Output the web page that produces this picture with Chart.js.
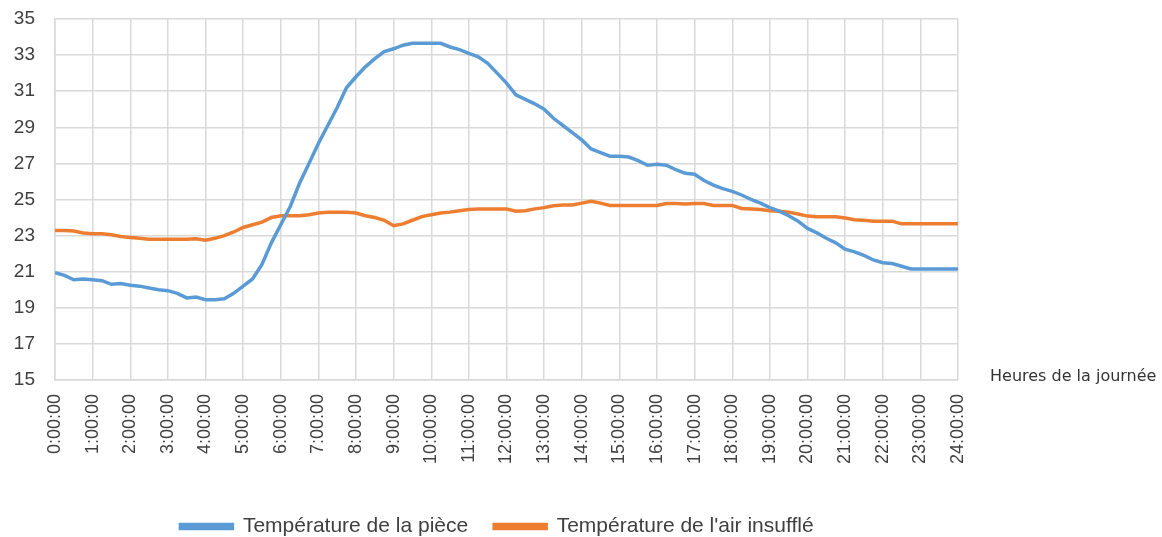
<!DOCTYPE html>
<html>
<head>
<meta charset="utf-8">
<script src="https://cdn.jsdelivr.net/npm/chart.js@4.4.1/dist/chart.umd.min.js"></script>
<style>
  html, body { margin: 0; padding: 0; background: #fff; }
  #wrap { width: 1162px; height: 537px; position: relative; }
</style>
</head>
<body>
<div id="wrap"><canvas id="tempChart"></canvas></div>
<script>
// Time of the reading (every 15 min)
const times = [
    "0:00","0:15","0:30","0:45","1:00","1:15","1:30","1:45",
    "2:00","2:15","2:30","2:45","3:00","3:15","3:30","3:45",
    "4:00","4:15","4:30","4:45","5:00","5:15","5:30","5:45",
    "6:00","6:15","6:30","6:45","7:00","7:15","7:30","7:45",
    "8:00","8:15","8:30","8:45","9:00","9:15","9:30","9:45",
    "10:00","10:15","10:30","10:45","11:00","11:15","11:30","11:45",
    "12:00","12:15","12:30","12:45","13:00","13:15","13:30","13:45",
    "14:00","14:15","14:30","14:45","15:00","15:15","15:30","15:45",
    "16:00","16:15","16:30","16:45","17:00","17:15","17:30","17:45",
    "18:00","18:15","18:30","18:45","19:00","19:15","19:30","19:45",
    "20:00","20:15","20:30","20:45","21:00","21:15","21:30","21:45",
    "22:00","22:15","22:30","22:45","23:00","23:15","23:30","23:45",
    "24:00"
];

// Température de la pièce
const roomTemp = [
    20.95, 20.8, 20.55, 20.6, 20.55, 20.5, 20.3, 20.35,
    20.25, 20.2, 20.1, 20.0, 19.95, 19.8, 19.55, 19.6,
    19.45, 19.45, 19.5, 19.8, 20.2, 20.6, 21.4, 22.6,
    23.6, 24.6, 25.9, 27.0, 28.1, 29.1, 30.1, 31.2,
    31.8, 32.35, 32.8, 33.2, 33.35, 33.55, 33.65, 33.65,
    33.65, 33.65, 33.45, 33.3, 33.1, 32.9, 32.55, 32.0,
    31.45, 30.8, 30.55, 30.3, 30.0, 29.5, 29.1, 28.7,
    28.3, 27.8, 27.6, 27.4, 27.4, 27.35, 27.15, 26.9,
    26.95, 26.9, 26.65, 26.45, 26.4, 26.05, 25.8, 25.6,
    25.45, 25.25, 25.0, 24.8, 24.55, 24.35, 24.1, 23.8,
    23.4, 23.15, 22.85, 22.6, 22.25, 22.1, 21.9, 21.65,
    21.5, 21.45, 21.3, 21.15, 21.15, 21.15, 21.15, 21.15,
    21.15
];

// Température de l'air insufflé
const supplyTemp = [
    23.28, 23.28, 23.25, 23.15, 23.1, 23.1, 23.05, 22.95,
    22.9, 22.85, 22.8, 22.8, 22.8, 22.8, 22.8, 22.82,
    22.75, 22.85, 23.0, 23.2, 23.45, 23.6, 23.75, 24.0,
    24.1, 24.1, 24.1, 24.15, 24.25, 24.3, 24.3, 24.3,
    24.25, 24.1, 24.0, 23.85, 23.55, 23.65, 23.85, 24.05,
    24.15, 24.25, 24.3, 24.38, 24.45, 24.48, 24.48, 24.48,
    24.48, 24.35, 24.38, 24.48, 24.55, 24.65, 24.7, 24.7,
    24.8, 24.9, 24.8, 24.67, 24.67, 24.67, 24.67, 24.67,
    24.67, 24.78, 24.78, 24.75, 24.78, 24.78, 24.67, 24.67,
    24.67, 24.5, 24.48, 24.45, 24.38, 24.35, 24.3, 24.2,
    24.08, 24.05, 24.05, 24.05, 23.98, 23.88, 23.85, 23.8,
    23.8, 23.8, 23.65, 23.65, 23.65, 23.65, 23.65, 23.65,
    23.65
];

const seriesNames = ["Température de la pièce", "Température de l'air insufflé"];
const xTitle = "Heures de la journée";

function toHours(t) {
    const parts = t.split(":");
    return Number(parts[0]) + Number(parts[1]) / 60;
}

function points(values) {
    return times.map((t, i) => ({ x: toHours(t), y: values[i] }));
}

const gridColor = "#d9d9d9";
const textColor = "#404040";
const font = "'Liberation Sans', Arial, sans-serif";

// axis title on the right of the x axis + legend nudge
const extras = {
    id: "extras",
    afterLayout(chart) {
        chart.legend.left += 14;
        chart.legend.right += 14;
    },
    afterDraw(chart) {
        const ctx = chart.ctx;
        const area = chart.chartArea;
        ctx.save();
        ctx.fillStyle = "#333";
        ctx.font = "16px 'DejaVu Sans', sans-serif";
        ctx.textBaseline = "middle";
        ctx.fillText(xTitle, area.right + 32, area.bottom - 3);
        ctx.restore();
    }
};

const ctx = document.getElementById("tempChart").getContext("2d");
const chart = new Chart(ctx, {
    type: "line",
    data: {
        datasets: [{
            label: seriesNames[0],
            data: points(roomTemp),
            borderColor: "#5B9BD5",
            backgroundColor: "#5B9BD5",
            borderWidth: 3.5,
            pointRadius: 0,
            tension: 0
        }, {
            label: seriesNames[1],
            data: points(supplyTemp),
            borderColor: "#ED7D31",
            backgroundColor: "#ED7D31",
            borderWidth: 3.5,
            pointRadius: 0,
            tension: 0
        }]
    },
    options: {
        responsive: true,
        maintainAspectRatio: false,
        animation: false,
        layout: { padding: { left: 8, right: 204, top: 19, bottom: -10 } },
        plugins: {
            legend: {
                position: "bottom",
                labels: {
                    boxWidth: 52,
                    boxHeight: 4,
                    padding: 26,
                    color: textColor,
                    font: { family: font, size: 21 }
                }
            },
            tooltip: { enabled: false }
        },
        scales: {
            x: {
                type: "linear",
                min: 0,
                max: 24,
                afterFit: scale => { scale.height = 110; },
                ticks: {
                    stepSize: 1,
                    minRotation: 90,
                    maxRotation: 90,
                    padding: 14,
                    color: textColor,
                    font: { family: font, size: 18 },
                    callback: v => v + ":00:00"
                },
                grid: { color: gridColor, lineWidth: 1.5, drawTicks: false },
                border: { color: gridColor, width: 1.5 }
            },
            y: {
                min: 15,
                max: 35,
                afterFit: scale => {
                    scale.width = 47;
                    scale.paddingTop = 0;
                    scale.paddingBottom = 0;
                },
                ticks: {
                    stepSize: 2,
                    padding: 20,
                    color: textColor,
                    font: { family: font, size: 19 }
                },
                grid: { color: gridColor, lineWidth: 1.5, drawTicks: false },
                border: { color: gridColor, width: 1.5 }
            }
        }
    },
    plugins: [extras]
});
</script>
</body>
</html>
